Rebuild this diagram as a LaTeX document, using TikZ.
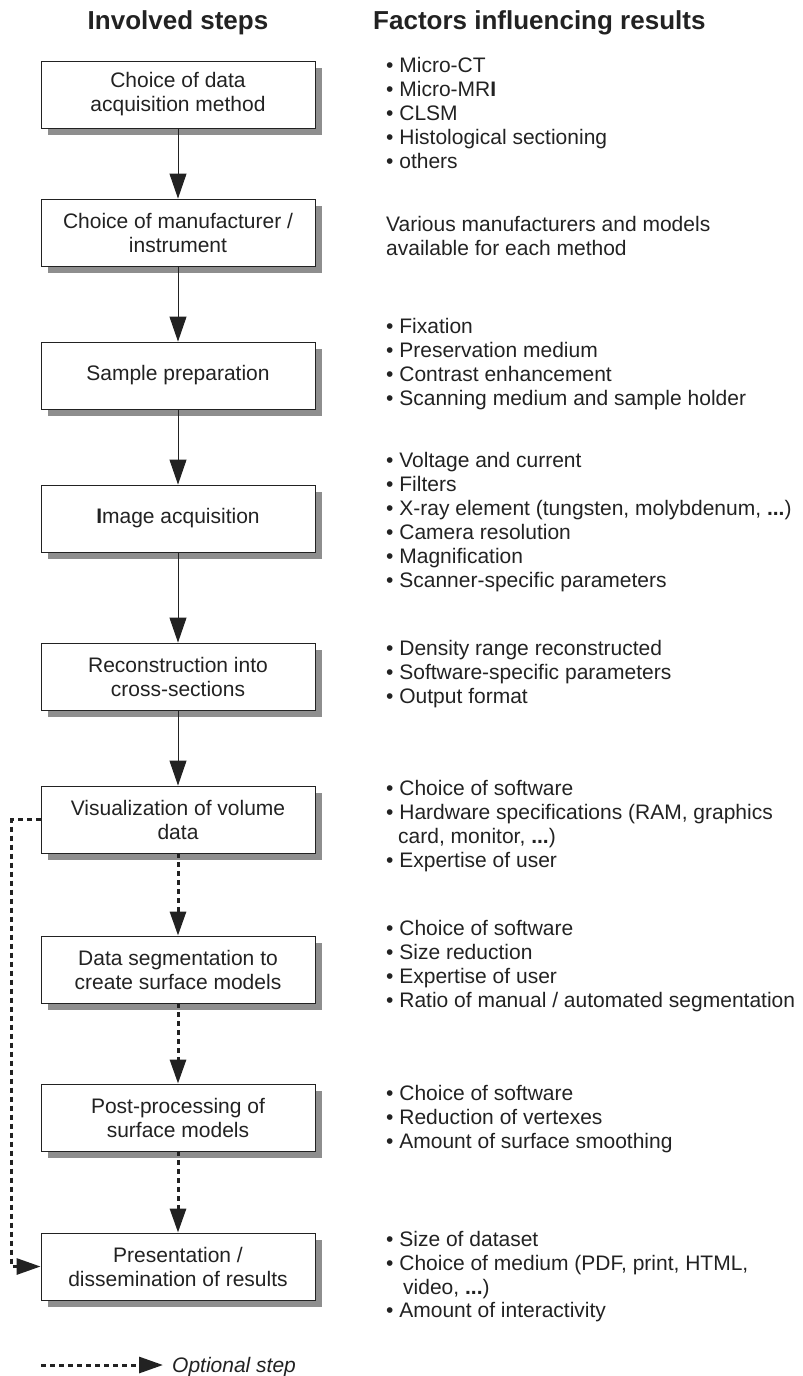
\documentclass[tikz,border=0pt]{standalone}
\usepackage{fontspec}
\setmainfont{Liberation Sans}
\usetikzlibrary{arrows.meta}
\definecolor{ink}{HTML}{222222}
\definecolor{shadowgray}{HTML}{8E8E8E}
\begin{document}
\begin{tikzpicture}[x=1pt,y=-1pt]
\useasboundingbox (0,0) rectangle (803,1376);
% box shadows first, before any text is set
\fill[shadowgray] (47.5,67.5) rectangle (321.5,134.5);
\fill[shadowgray] (47.5,205.5) rectangle (321.5,272.5);
\fill[shadowgray] (47.5,348.5) rectangle (321.5,415.5);
\fill[shadowgray] (47.5,491.5) rectangle (321.5,558.5);
\fill[shadowgray] (47.5,649.5) rectangle (321.5,716.5);
\fill[shadowgray] (47.5,792.5) rectangle (321.5,859.5);
\fill[shadowgray] (47.5,942.5) rectangle (321.5,1009.5);
\fill[shadowgray] (47.5,1090.5) rectangle (321.5,1157.5);
\fill[shadowgray] (47.5,1239.5) rectangle (321.5,1306.5);

\tikzset{
  stepbox/.style={draw=ink, line width=0.9pt, fill=white, minimum width=274pt, minimum height=67pt,
    inner sep=0pt, align=center, font=\fontsize{21}{24}\selectfont, text=ink},
  fact/.style={anchor=base west, inner sep=0pt, font=\fontsize{21}{24}\selectfont, text=ink},
  head/.style={inner sep=0pt, font=\fontsize{26}{30}\selectfont\bfseries, text=ink},
  flow/.style={draw=ink, line width=1pt, -{Triangle[width=17pt,length=25pt]}},
  optflow/.style={draw=ink, line width=3pt, dash pattern=on 5pt off 4pt, -{Triangle[width=16pt,length=24pt]}},
}

% steps
\node[stepbox] (b1) at (178,94.5) {Choice of data\\acquisition method};
\node[stepbox] (b2) at (178,232.5) {Choice of manufacturer /\\instrument};
\node[stepbox] (b3) at (178,375.5) {Sample preparation};
\node[stepbox] (b4) at (178,518.5) {\textbf{I}mage acquisition};
\node[stepbox] (b5) at (178,676.5) {Reconstruction into\\cross-sections};
\node[stepbox] (b6) at (178,819.5) {Visualization of volume\\data};
\node[stepbox] (b7) at (178,969.5) {Data segmentation to\\create surface models};
\node[stepbox] (b8) at (178,1117.5) {Post-processing of\\surface models};
\node[stepbox] (b9) at (178,1266.5) {Presentation /\\dissemination of results};

% headers
\node[head, anchor=base] (h1) at (178,29) {Involved steps};
\node[head, anchor=base west] (h2) at (373,29) {Factors influencing results};

% connectors
\draw[flow] (b1) -- (b2);
\draw[flow] (b2) -- (b3);
\draw[flow] (b3) -- (b4);
\draw[flow] (b4) -- (b5);
\draw[flow] (b5) -- (b6);
\draw[optflow] (b6) -- (b7);
\draw[optflow] (b7) -- (b8);
\draw[optflow] (b8) -- (b9);
\draw[optflow] (b6.west) -- ++(-29,0) |- (b9.west);

% factors
\node[fact] (f1a) at (386,72) {• Micro-CT};
\node[fact] (f1b) at (386,96) {• Micro-MR\textbf{I}};
\node[fact] (f1c) at (386,120) {• CLSM};
\node[fact] (f1d) at (386,144) {• Histological sectioning};
\node[fact] (f1e) at (386,168) {• others};

\node[fact] (f2a) at (386,231) {Various manufacturers and models};
\node[fact] (f2b) at (386,255) {available for each method};

\node[fact] (f3a) at (386,333) {• Fixation};
\node[fact] (f3b) at (386,357) {• Preservation medium};
\node[fact] (f3c) at (386,381) {• Contrast enhancement};
\node[fact] (f3d) at (386,405) {• Scanning medium and sample holder};

\node[fact] (f4a) at (386,467) {• Voltage and current};
\node[fact] (f4b) at (386,491) {• Filters};
\node[fact] (f4c) at (386,515) {• X-ray element (tungsten, molybdenum, \textbf{...})};
\node[fact] (f4d) at (386,539) {• Camera resolution};
\node[fact] (f4e) at (386,563) {• Magnification};
\node[fact] (f4f) at (386,587) {• Scanner-specific parameters};

\node[fact] (f5a) at (386,655) {• Density range reconstructed};
\node[fact] (f5b) at (386,679) {• Software-specific parameters};
\node[fact] (f5c) at (386,703) {• Output format};

\node[fact] (f6a) at (386,795) {• Choice of software};
\node[fact] (f6b) at (386,819) {• Hardware specifications (RAM, graphics};
\node[fact] (f6c) at (398,843) {card, monitor, \textbf{...})};
\node[fact] (f6d) at (386,867) {• Expertise of user};

\node[fact] (f7a) at (386,935) {• Choice of software};
\node[fact] (f7b) at (386,959) {• Size reduction};
\node[fact] (f7c) at (386,983) {• Expertise of user};
\node[fact] (f7d) at (386,1007) {• Ratio of manual / automated segmentation};

\node[fact] (f8a) at (386,1100) {• Choice of software};
\node[fact] (f8b) at (386,1124) {• Reduction of vertexes};
\node[fact] (f8c) at (386,1148) {• Amount of surface smoothing};

\node[fact] (f9a) at (386,1246) {• Size of dataset};
\node[fact] (f9b) at (386,1270) {• Choice of medium (PDF, print, HTML,};
\node[fact] (f9c) at (403,1294) {video, \textbf{...})};
\node[fact] (f9d) at (386,1317) {• Amount of interactivity};

% legend
\coordinate (leg0) at (41,1365);
\coordinate (leg1) at (163,1365);
\draw[optflow] (leg0) -- (leg1);
\node[fact, font=\fontsize{21}{24}\selectfont\itshape] (legtxt) at (172,1372) {Optional step};
\end{tikzpicture}
\end{document}
